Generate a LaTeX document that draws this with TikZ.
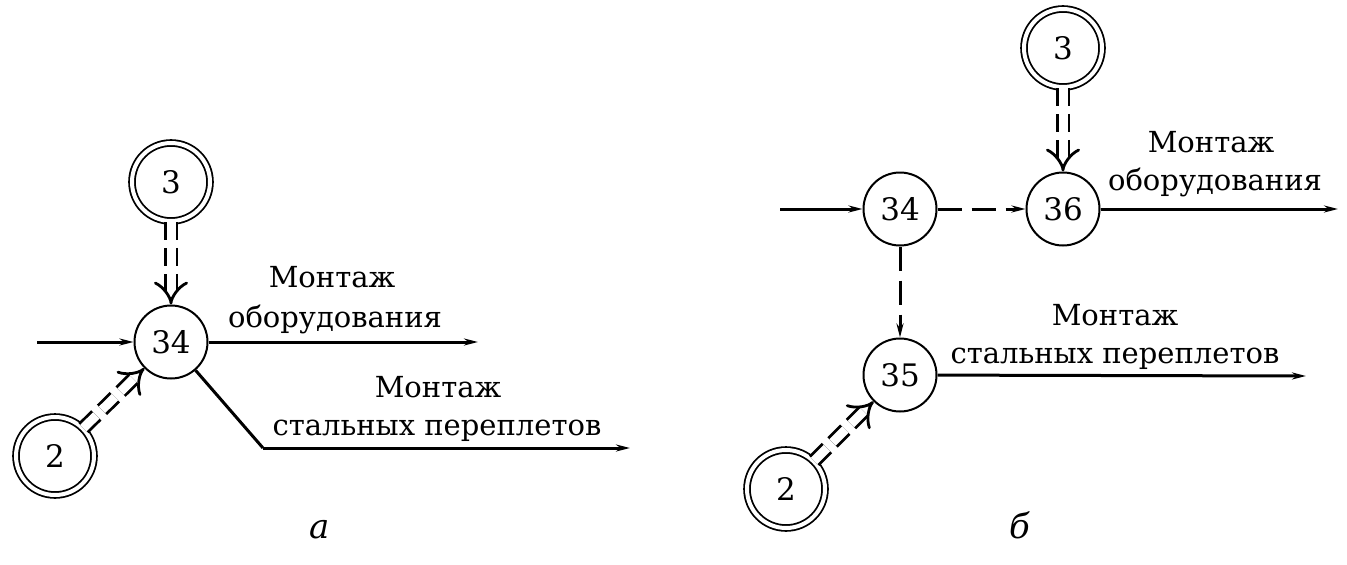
\documentclass[tikz,border=0pt]{standalone}
\usepackage{fontspec}
\newfontfamily\timesf{DejaVu Serif}
\usetikzlibrary{arrows.meta}
\begin{document}
\begin{tikzpicture}[x=1pt,y=-1pt,
  ev/.style={circle, draw, line width=2pt, minimum size=73pt, inner sep=0pt, font=\timesf\fontsize{31}{40}\selectfont},
  dev/.style={circle, draw, line width=1.8pt, double, double distance=4pt, minimum size=78pt, inner sep=0pt, font=\timesf\fontsize{31}{40}\selectfont},
  work/.style={line width=3pt, -{Stealth[length=14pt,width=7pt]}},
  plainline/.style={line width=3pt},
  dum/.style={line width=3pt, dash pattern=on 24pt off 10pt, -{Stealth[length=14pt,width=7pt]}},
  res/.style={double, line width=2.8pt, double distance=9pt, dash pattern=on 18pt off 8pt, -{Implies[length=11pt,width=26pt]}},
  lbl/.style={font=\timesf\fontsize{29}{40}\selectfont, anchor=base, inner sep=0pt},
  figcap/.style={font=\timesf\fontsize{34}{44}\selectfont\itshape, anchor=base, inner sep=0pt}]
\useasboundingbox (0,0) rectangle (1347,565);
% panel a
\node[dev] (a3) at (171,182) {3};
\node[ev] (a34) at (171,342) {34};
\node[dev] (a2) at (55,456) {2};
\coordinate (ain) at (37,342);
\coordinate (aout1) at (478,342);
\coordinate (abend) at (263,448);
\coordinate (aout2) at (630,448);
\draw[work] (ain) -- (a34);
\draw[work] (a34) -- (aout1);
\draw[plainline] (a34) -- (abend);
\draw[work] (abend) -- (aout2);
\draw[res] (a3) -- (a34);
\draw[res] (a2) -- (a34);
\node[lbl] (at1) at (332,287) {Монтаж};
\node[lbl] (at2) at (335,327) {оборудования};
\node[lbl] (at3) at (438,397) {Монтаж};
\node[lbl] (at4) at (437,435) {стальных переплетов};
\node[figcap] (acap) at (320,538) {а};
% panel b
\node[dev] (b3) at (1063,48) {3};
\node[ev] (b36) at (1063,209) {36};
\node[ev] (b34) at (900,209) {34};
\node[ev] (b35) at (900,375) {35};
\node[dev] (b2) at (786,489) {2};
\coordinate (bin) at (780,209);
\coordinate (bout1) at (1338,209);
\coordinate (bout2) at (1306,376);
\draw[work] (bin) -- (b34);
\draw[dum] (b34) -- (b36);
\draw[dum] (b34) -- (b35);
\draw[work] (b36) -- (bout1);
\draw[work] (b35) -- (bout2);
\draw[res] (b3) -- (b36);
\draw[res] (b2) -- (b35);
\node[lbl] (bt1) at (1211,152) {Монтаж};
\node[lbl] (bt2) at (1215,190) {оборудования};
\node[lbl] (bt3) at (1115,325) {Монтаж};
\node[lbl] (bt4) at (1115,363) {стальных переплетов};
\node[figcap] (bcap) at (1020,538) {б};
\end{tikzpicture}
\end{document}
